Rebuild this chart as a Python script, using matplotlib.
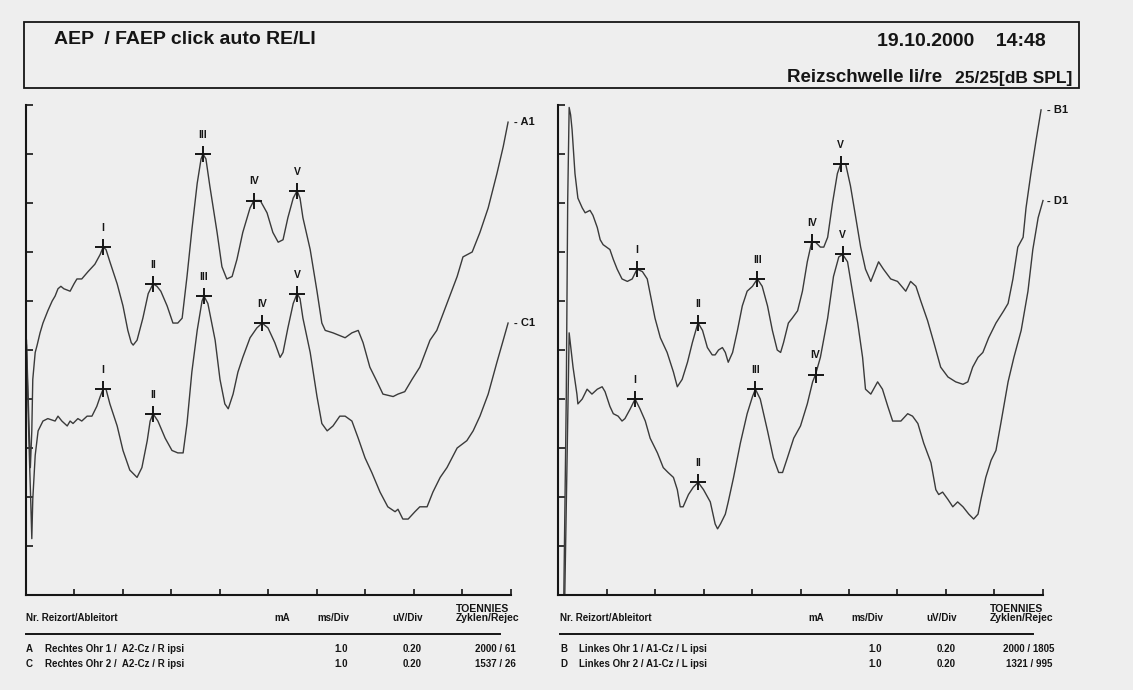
import matplotlib.pyplot as plt
import numpy as np
from matplotlib.patches import Rectangle

# latency in ms, amplitude in uV (0.20 uV/Div, 1.0 ms/Div)
a_t = [0.02, 0.07, 0.10, 0.13, 0.15, 0.20, 0.24, 0.30, 0.36, 0.46, 0.55, 0.61, 0.67, 0.73, 0.79, 0.92,
       1.00, 1.06, 1.16, 1.29, 1.43, 1.54, 1.60, 1.66, 1.74, 1.89, 2.01, 2.11, 2.18, 2.22, 2.30, 2.42,
       2.53, 2.63, 2.71, 2.79, 2.92, 3.04, 3.14, 3.23, 3.33, 3.43, 3.54, 3.62, 3.66, 3.72, 3.80, 3.95,
       4.05, 4.15, 4.26, 4.36, 4.48, 4.63, 4.71, 4.84, 4.98, 5.10, 5.21, 5.31, 5.41, 5.52, 5.60, 5.66,
       5.72, 5.87, 6.01, 6.11, 6.18, 6.34, 6.59, 6.73, 6.86, 6.96, 7.10, 7.25, 7.37, 7.58, 7.68, 7.82,
       7.97, 8.13, 8.34, 8.48, 8.69, 8.90, 9.02, 9.21, 9.37, 9.54, 9.72, 9.85, 9.95]
a_v = [1.04, 0.71, 0.52, 0.67, 0.88, 0.99, 1.02, 1.07, 1.11, 1.16, 1.20, 1.22, 1.25, 1.26, 1.25, 1.24,
       1.27, 1.29, 1.29, 1.32, 1.35, 1.39, 1.42, 1.41, 1.36, 1.27, 1.18, 1.08, 1.03, 1.02, 1.04, 1.13,
       1.23, 1.27, 1.26, 1.24, 1.18, 1.11, 1.11, 1.13, 1.30, 1.49, 1.68, 1.78, 1.80, 1.78, 1.67, 1.48,
       1.34, 1.29, 1.30, 1.37, 1.48, 1.58, 1.61, 1.61, 1.56, 1.48, 1.44, 1.45, 1.54, 1.62, 1.65, 1.62,
       1.54, 1.41, 1.24, 1.11, 1.08, 1.07, 1.05, 1.07, 1.08, 1.03, 0.93, 0.87, 0.82, 0.81, 0.82, 0.83,
       0.88, 0.93, 1.04, 1.08, 1.19, 1.30, 1.38, 1.40, 1.48, 1.58, 1.72, 1.83, 1.93]

c_t = [0.02, 0.07, 0.11, 0.13, 0.15, 0.20, 0.26, 0.36, 0.46, 0.61, 0.67, 0.75, 0.86, 0.92, 0.98, 1.08,
       1.16, 1.27, 1.37, 1.47, 1.54, 1.60, 1.66, 1.74, 1.89, 2.01, 2.15, 2.30, 2.40, 2.51, 2.57, 2.63,
       2.73, 2.88, 3.02, 3.14, 3.25, 3.33, 3.43, 3.54, 3.64, 3.68, 3.76, 3.91, 4.01, 4.11, 4.18, 4.28,
       4.38, 4.48, 4.63, 4.77, 4.88, 5.00, 5.14, 5.25, 5.31, 5.41, 5.52, 5.60, 5.66, 5.72, 5.87, 6.01,
       6.11, 6.22, 6.34, 6.48, 6.59, 6.73, 6.86, 7.00, 7.14, 7.31, 7.47, 7.62, 7.68, 7.78, 7.89, 8.03,
       8.13, 8.28, 8.40, 8.55, 8.69, 8.90, 9.10, 9.23, 9.37, 9.54, 9.72, 9.85, 9.95]
c_v = [1.02, 0.63, 0.37, 0.23, 0.39, 0.57, 0.67, 0.71, 0.72, 0.71, 0.73, 0.71, 0.69, 0.71, 0.70, 0.72,
       0.71, 0.73, 0.73, 0.77, 0.81, 0.84, 0.84, 0.78, 0.69, 0.59, 0.51, 0.48, 0.52, 0.63, 0.71, 0.74,
       0.71, 0.64, 0.59, 0.58, 0.58, 0.70, 0.91, 1.08, 1.20, 1.22, 1.19, 1.04, 0.88, 0.78, 0.76, 0.82,
       0.91, 0.97, 1.05, 1.09, 1.11, 1.09, 1.03, 0.97, 0.99, 1.09, 1.19, 1.23, 1.21, 1.13, 0.99, 0.81,
       0.70, 0.67, 0.69, 0.73, 0.73, 0.71, 0.64, 0.56, 0.50, 0.42, 0.36, 0.34, 0.35, 0.31, 0.31, 0.34,
       0.36, 0.36, 0.42, 0.48, 0.52, 0.60, 0.63, 0.67, 0.73, 0.82, 0.95, 1.04, 1.11]

b_t = [0.12, 0.17, 0.20, 0.23, 0.26, 0.29, 0.35, 0.41, 0.50, 0.56, 0.66, 0.72, 0.81, 0.87, 0.93, 1.07,
       1.14, 1.22, 1.32, 1.43, 1.53, 1.63, 1.74, 1.84, 1.90, 2.00, 2.11, 2.25, 2.38, 2.46, 2.56, 2.67,
       2.77, 2.87, 2.89, 2.98, 3.08, 3.18, 3.24, 3.31, 3.39, 3.45, 3.51, 3.60, 3.70, 3.80, 3.90, 4.01,
       4.11, 4.21, 4.32, 4.42, 4.52, 4.59, 4.65, 4.75, 4.83, 4.94, 5.04, 5.14, 5.23, 5.31, 5.41, 5.48,
       5.56, 5.66, 5.76, 5.83, 5.93, 6.03, 6.14, 6.24, 6.34, 6.45, 6.51, 6.61, 6.71, 6.86, 7.00, 7.17,
       7.27, 7.38, 7.48, 7.62, 7.75, 7.89, 8.04, 8.20, 8.35, 8.45, 8.55, 8.66, 8.76, 8.88, 9.03, 9.19,
       9.28, 9.38, 9.48, 9.59, 9.65, 9.75, 9.86, 9.96]
b_v = [0.00, 0.80, 1.61, 1.99, 1.96, 1.90, 1.72, 1.62, 1.58, 1.56, 1.57, 1.55, 1.50, 1.45, 1.43, 1.41,
       1.37, 1.33, 1.29, 1.28, 1.29, 1.33, 1.32, 1.29, 1.23, 1.13, 1.05, 0.99, 0.91, 0.85, 0.88, 0.95,
       1.03, 1.10, 1.11, 1.08, 1.01, 0.98, 0.98, 1.00, 1.01, 0.99, 0.95, 0.99, 1.08, 1.18, 1.24, 1.26,
       1.29, 1.26, 1.18, 1.08, 1.00, 0.99, 1.03, 1.11, 1.13, 1.16, 1.24, 1.36, 1.44, 1.44, 1.42, 1.42,
       1.46, 1.60, 1.72, 1.76, 1.76, 1.67, 1.54, 1.42, 1.33, 1.28, 1.31, 1.36, 1.33, 1.29, 1.28, 1.24,
       1.28, 1.26, 1.20, 1.12, 1.03, 0.93, 0.89, 0.87, 0.86, 0.87, 0.93, 0.97, 0.99, 1.05, 1.11, 1.16,
       1.19, 1.29, 1.42, 1.46, 1.58, 1.72, 1.86, 1.98]

d_t = [0.14, 0.19, 0.23, 0.27, 0.31, 0.39, 0.41, 0.50, 0.60, 0.70, 0.81, 0.91, 0.97, 1.07, 1.14, 1.24,
       1.32, 1.38, 1.49, 1.59, 1.69, 1.80, 1.90, 2.05, 2.17, 2.27, 2.38, 2.46, 2.52, 2.58, 2.69, 2.79,
       2.89, 3.00, 3.14, 3.24, 3.29, 3.35, 3.45, 3.51, 3.62, 3.76, 3.90, 4.01, 4.07, 4.17, 4.32, 4.44,
       4.55, 4.63, 4.73, 4.86, 5.00, 5.14, 5.25, 5.31, 5.41, 5.56, 5.68, 5.79, 5.87, 5.97, 6.07, 6.18,
       6.28, 6.34, 6.45, 6.59, 6.69, 6.80, 6.90, 7.07, 7.21, 7.31, 7.42, 7.54, 7.69, 7.79, 7.85, 7.93,
       8.04, 8.14, 8.24, 8.35, 8.47, 8.57, 8.66, 8.72, 8.82, 8.93, 9.03, 9.13, 9.28, 9.40, 9.55, 9.69,
       9.79, 9.90, 10.00]
d_v = [0.00, 0.59, 1.07, 1.00, 0.93, 0.82, 0.78, 0.80, 0.84, 0.82, 0.84, 0.85, 0.83, 0.77, 0.74, 0.73,
       0.71, 0.72, 0.76, 0.80, 0.76, 0.71, 0.64, 0.58, 0.52, 0.50, 0.48, 0.43, 0.36, 0.36, 0.41, 0.44,
       0.46, 0.43, 0.38, 0.29, 0.27, 0.29, 0.33, 0.38, 0.48, 0.62, 0.74, 0.81, 0.84, 0.80, 0.67, 0.56,
       0.50, 0.50, 0.56, 0.64, 0.69, 0.78, 0.87, 0.90, 0.97, 1.13, 1.30, 1.38, 1.39, 1.36, 1.24, 1.11,
       0.97, 0.84, 0.82, 0.87, 0.84, 0.77, 0.71, 0.71, 0.74, 0.73, 0.70, 0.62, 0.54, 0.43, 0.41, 0.42,
       0.39, 0.36, 0.38, 0.36, 0.33, 0.31, 0.33, 0.39, 0.48, 0.55, 0.59, 0.70, 0.87, 0.97, 1.08, 1.24,
       1.41, 1.54, 1.61]

# marked wave latencies (ms)
peaks_a = [1.60, 2.63, 3.66, 4.71, 5.60]
peaks_c = [1.60, 2.63, 3.68, 4.88, 5.60]
peaks_b = [1.63, 2.89, 4.11, 5.23, 5.83]
peaks_d = [1.59, 2.89, 4.07, 5.31, 5.87]
waves = ["I", "II", "III", "IV", "V"]

rows_left = [["A", "Rechtes Ohr 1 /  A2-Cz / R ipsi", "1.0", "0.20", "2000 / 61"],
             ["C", "Rechtes Ohr 2 /  A2-Cz / R ipsi", "1.0", "0.20", "1537 / 26"]]
rows_right = [["B", "Linkes Ohr 1 / A1-Cz / L ipsi", "1.0", "0.20", "2000 / 1805"],
              ["D", "Linkes Ohr 2 / A1-Cz / L ipsi", "1.0", "0.20", "1321 / 995"]]

plt.rcParams['font.family'] = ['Liberation Sans', 'DejaVu Sans']

W, H = 1133, 690
fig = plt.figure(figsize=(W / 100, H / 100), dpi=100, facecolor="#eeeeee")
ink = "#151515"
trace_col = "#3a3a3a"


def fx(x):
    return x / W


def fy(y):
    return 1 - y / H


def panel(left, traces):
    ax = fig.add_axes([fx(left), fy(595), 10.4 * 48.5 / W, 490 / H])
    ax.set_facecolor("none")
    ax.set_xlim(0, 10.4)
    ax.set_ylim(0, 2.0)
    for s in ["top", "right"]:
        ax.spines[s].set_visible(False)
    for s in ["left", "bottom"]:
        ax.spines[s].set_linewidth(1.5)
        ax.spines[s].set_color(ink)
    ax.spines["bottom"].set_bounds(0, 10)
    ax.set_xticks(np.arange(1, 11))
    ax.set_yticks(np.arange(0.2, 2.01, 0.2))
    ax.set_xticklabels([])
    ax.set_yticklabels([])
    ax.tick_params(axis="x", direction="in", length=4, width=1.2, color=ink)
    ax.tick_params(axis="y", direction="in", length=5, width=1.2, color=ink)

    for t, v, peaks, name in traces:
        ax.plot(t, v, color=trace_col, lw=1.0, clip_on=False)
        for p, w in zip(peaks, waves):
            y = np.interp(p, t, v)
            ax.plot(p, y, marker="+", ms=12, mew=1.4, color=ink, clip_on=False)
            ax.text(p, y + 0.078, w, ha="center", va="center", fontsize=7.5,
                    fontweight="bold", color=ink)
        ax.text(10.08, v[-1], "- " + name, ha="left", va="center", fontsize=8,
                fontweight="bold", color=ink)
    return ax


panel(25.5, [(a_t, a_v, peaks_a, "A1"), (c_t, c_v, peaks_c, "C1")])
panel(558, [(b_t, b_v, peaks_b, "B1"), (d_t, d_v, peaks_d, "D1")])

# header box
fig.patches.append(Rectangle((fx(24), fy(88)), fx(1079 - 24), 66 / H, transform=fig.transFigure,
                             fill=False, lw=1.3, ec=ink))
fig.text(fx(54), fy(39), "AEP  / FAEP click auto RE/LI", fontsize=14, fontweight="bold",
         ha="left", va="center", color=ink)
fig.text(fx(1046), fy(41), "19.10.2000    14:48", fontsize=14, fontweight="bold",
         ha="right", va="center", color=ink)
fig.text(fx(1072), fy(78), "25/25[dB SPL]", fontsize=12.5, fontweight="bold",
         ha="right", va="center", color=ink)
fig.text(fx(942), fy(78), "Reizschwelle li/re", fontsize=13.5, fontweight="bold",
         ha="right", va="center", color=ink)


def table(x0, rows, rule_end):
    kw = dict(fontsize=7, fontweight="bold", color=ink, va="center")
    fig.text(fx(x0), fy(618), "Nr. Reizort/Ableitort", ha="left", **kw)
    fig.text(fx(x0 + 256), fy(618), "mA", ha="center", **kw)
    fig.text(fx(x0 + 307), fy(618), "ms/Div", ha="center", **kw)
    fig.text(fx(x0 + 382), fy(618), "uV/Div", ha="center", **kw)
    fig.text(fx(x0 + 457), fy(609), "TOENNIES", ha="center", fontsize=7.5, fontweight="bold",
             color=ink, va="center")
    fig.text(fx(x0 + 462), fy(618), "Zyklen/Rejec", ha="center", fontsize=7.5, fontweight="bold",
             color=ink, va="center")
    fig.add_artist(plt.Line2D([fx(x0), fx(rule_end)], [fy(634), fy(634)], lw=1.4, color=ink))
    for k, (nr, site, ms, uv, cyc) in enumerate(rows):
        y = fy(649 + 15 * k)
        fig.text(fx(x0), y, nr, ha="left", **kw)
        fig.text(fx(x0 + 19), y, site, ha="left", **kw)
        fig.text(fx(x0 + 315), y, ms, ha="center", **kw)
        fig.text(fx(x0 + 386), y, uv, ha="center", **kw)
        fig.text(fx(x0 + 469), y, cyc, ha="center", **kw)


table(26, rows_left, 500)
table(560, rows_right, 1033)

fig.savefig("out.png", dpi=100, facecolor=fig.get_facecolor())
